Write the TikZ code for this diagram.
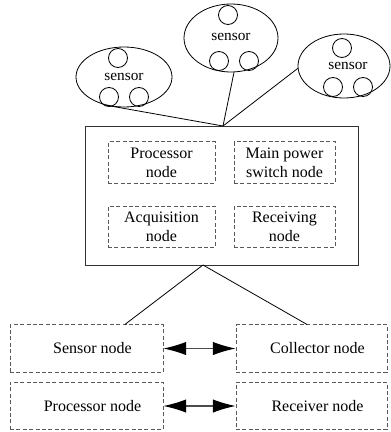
\documentclass[tikz,border=0pt]{standalone}
\usepackage{fontspec}
\setmainfont{Liberation Serif}
\usetikzlibrary{arrows.meta,shapes.geometric,calc}
\begin{document}
\begin{tikzpicture}[x=0.75pt,y=-0.75pt,
  ell/.style={draw=black,line width=0.6pt,ellipse,inner sep=0pt,font=\fontsize{11.5}{13}\selectfont},
  sub/.style={draw=black,line width=0.6pt,circle,inner sep=0pt,minimum size=14.25pt},
  mainbox/.style={draw=black!80,line width=0.7pt,rectangle,inner sep=0pt,minimum width=204.75pt,minimum height=104.25pt},
  inbox/.style={draw=black!65,line width=0.6pt,dash pattern=on 3pt off 1.8pt,rectangle,inner sep=0pt,minimum height=31pt,align=center,font=\fontsize{12}{14.2}\selectfont},
  outbox/.style={draw=black!65,line width=0.6pt,dash pattern=on 3pt off 1.8pt,rectangle,inner sep=0pt,minimum height=35.5pt,font=\fontsize{12}{14.2}\selectfont},
  link/.style={draw=black,line width=0.6pt},
  dbl/.style={draw=black!70,line width=0.8pt,{Latex[length=17pt,width=10pt,black]}-{Latex[length=17pt,width=10pt,black]}}
]
\useasboundingbox (0,0) rectangle (390,432);
% sensor clusters
\node[ell,minimum width=72pt,minimum height=45pt] (e1) at (124,77) {sensor};
\node[sub] (e1a) at (118,58) {};
\node[sub] (e1b) at (109,97) {};
\node[sub] (e1c) at (139,97) {};
\node[ell,minimum width=70.5pt,minimum height=51pt] (e2) at (231,38) {\raisebox{1.5pt}{sensor}};
\node[sub] (e2a) at (228,15) {};
\node[sub] (e2b) at (219,61) {};
\node[sub] (e2c) at (249,61) {};
\node[ell,minimum width=69pt,minimum height=48pt] (e3) at (344,66) {\hspace*{6pt}sensor};
\node[sub] (e3a) at (342,48) {};
\node[sub] (e3b) at (333,87) {};
\node[sub] (e3c) at (363,87) {};
% main box
\node[mainbox] (mb) at (221.5,195.5) {};
\node[inbox,minimum width=80.25pt] (p1) at (161.5,162.5) {Processor\\node};
\node[inbox,minimum width=75.75pt] (p2) at (284.5,162.5) {Main power\\switch node};
\node[inbox,minimum width=80.25pt] (p3) at (161.5,227) {Acquisition\\node};
\node[inbox,minimum width=75.75pt] (p4) at (284.5,227) {Receiving\\node};
\coordinate (hub) at (223,126);
\coordinate (bhub) at (203,265);
\draw[link] (e1.237) -- (hub);
\draw[link] (e2.275) -- (hub);
\draw[link] (e3.183) -- (hub);
% bottom nodes
\node[outbox,minimum width=114.75pt] (sn) at (86.5,348.5) {\hspace*{9pt}Sensor node};
\node[outbox,minimum width=113.25pt] (cn) at (311.5,348.5) {\hspace*{9pt}Collector node};
\node[outbox,minimum width=114.75pt] (pn) at (86.5,406) {\hspace*{9pt}Processor node};
\node[outbox,minimum width=113.25pt] (rn) at (311.5,406) {\hspace*{9pt}Receiver node};
\draw[link] (bhub) -- ($(sn.north west)!0.75!(sn.north east)$);
\draw[link] (bhub) -- ($(cn.north west)!0.47!(cn.north east)$);
\draw[dbl] (sn.east) -- (cn.west);
\draw[dbl] (pn.east) -- (rn.west);
\end{tikzpicture}
\end{document}
